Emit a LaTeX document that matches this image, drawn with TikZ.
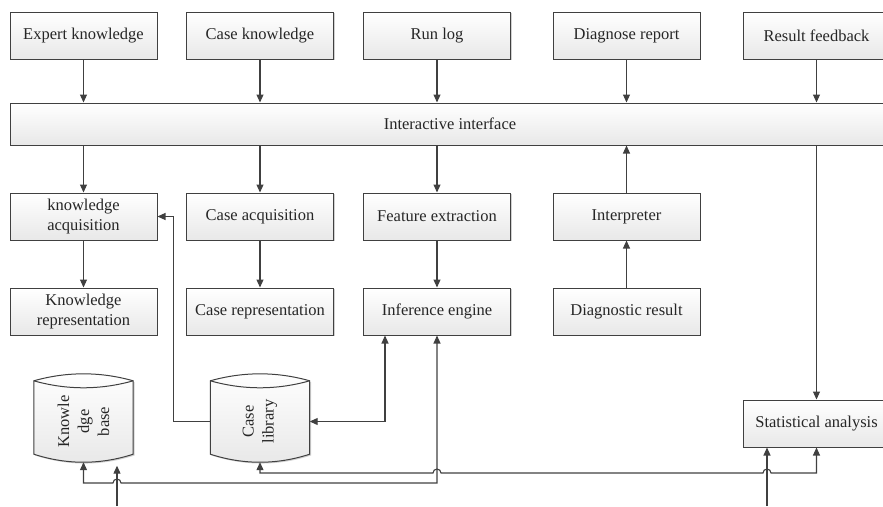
\documentclass[tikz,border=0pt]{standalone}
\usepackage{fontspec}
\setmainfont{Liberation Serif}
\usetikzlibrary{arrows.meta,shadows}
\definecolor{ln}{HTML}{404040}
\definecolor{tx}{HTML}{262626}
\newcommand{\dbshape}[1]{%
  \path[draw=ln, line width=1pt, top color=white, bottom color=black!9,
        general shadow={fill=black!18, shadow xshift=1.3pt, shadow yshift=-1.3pt}]
    (#1.north west) .. controls +(33,-9.3) and +(-33,-9.3) .. (#1.north east)
    -- ([yshift=8pt]#1.south east) .. controls +(-33,10.7) and +(33,10.7) .. ([yshift=8pt]#1.south west)
    -- cycle;
  \draw[ln, line width=1pt] (#1.north west) .. controls +(33,9.3) and +(-33,9.3) .. (#1.north east);}
\begin{document}
\begin{tikzpicture}[x=1pt,y=-1pt,
  box/.style={draw=ln, line width=1pt, top color=white, bottom color=black!9,
    general shadow={fill=black!18, shadow xshift=1.3pt, shadow yshift=-1.3pt},
    minimum width=147pt, minimum height=47pt, inner sep=1pt, align=center, text=tx,
    font=\fontsize{16.5}{20}\selectfont},
  conn/.style={draw=ln, line width=1.1pt},
  arr/.style={conn, -{Triangle[length=8pt,width=7pt]}},
  darr/.style={conn, {Triangle[length=8pt,width=7pt]}-{Triangle[length=8pt,width=7pt]}},
  cylbody/.style={minimum width=99pt, minimum height=81pt, inner sep=0pt},
  cyltext/.style={rotate=90, align=center, text=tx, font=\fontsize{16.5}{20}\selectfont}
]
\useasboundingbox (0,0) rectangle (883,506);

% top row
\node[box] (ek) at (83.5,35.5) {Expert knowledge};
\node[box] (ck) at (260,35.5) {Case knowledge};
\node[box] (rl) at (437,35.5) {Run log};
\node[box] (dr) at (626.5,35.5) {Diagnose report};
\node[box] (rf) at (816.5,35.5) {Result feedback};

% interface
\node[box, minimum width=880pt, minimum height=42pt] (iface) at (450,124) {Interactive interface};

% middle rows
\node[box] (ka) at (83.5,216.5) {knowledge\\acquisition};
\node[box] (ca) at (260,216.5) {Case acquisition};
\node[box] (fe) at (437,216.5) {Feature extraction};
\node[box] (interp) at (626.5,216.5) {Interpreter};
\node[box] (kr) at (83.5,311.5) {Knowledge\\representation};
\node[box] (cr) at (260,311.5) {Case representation};
\node[box] (ie) at (437,311.5) {Inference engine};
\node[box] (dres) at (626.5,311.5) {Diagnostic result};
\node[box] (stat) at (816.5,423.5) {Statistical analysis};

% cylinders
\node[cylbody] (kb) at (83.5,421.5) {};
\dbshape{kb}
\node[cyltext] at (kb) {Knowle\\dge\\base};
\node[cylbody] (cl) at (260,421.5) {};
\dbshape{cl}
\node[cyltext] at (cl) {Case\\library};

\coordinate (in1) at (117,506);
\coordinate (in2) at (767,506);

% connectors top -> interface
\foreach \n in {ek,ck,rl,dr,rf}
  \draw[arr] (\n.south) -- (\n.south |- iface.north);
% interface -> middle
\foreach \n in {ka,ca,fe}
  \draw[arr] (\n.north |- iface.south) -- (\n.north);
\draw[arr] (ka) -- (kr);
\draw[arr] (ca) -- (cr);
\draw[arr] (fe) -- (ie);
\draw[arr] (dres) -- (interp);
\draw[arr] (interp.north) -- (interp.north |- iface.south);
\draw[arr] (stat.north |- iface.south) -- (stat.north);

% case library links
\draw[arr] (cl.west) -- ++(-37,0) |- (ka.east);
\draw[darr] (cl.east) -| ([xshift=-52pt]ie.south);

% bottom links
\draw[darr] (kb.south) |- (113,483) arc[start angle=180,end angle=0,radius=4pt] -| (ie.south);
\draw[darr] (cl.south) |- (433,473) arc[start angle=180,end angle=0,radius=4pt]
   -- (763,473) arc[start angle=180,end angle=0,radius=4pt] -| (stat.south);
\draw[arr, shorten >=3.5pt] (in1) -- (in1 |- kb.south);
\draw[arr] (in2) -- (in2 |- stat.south);
\end{tikzpicture}
\end{document}
